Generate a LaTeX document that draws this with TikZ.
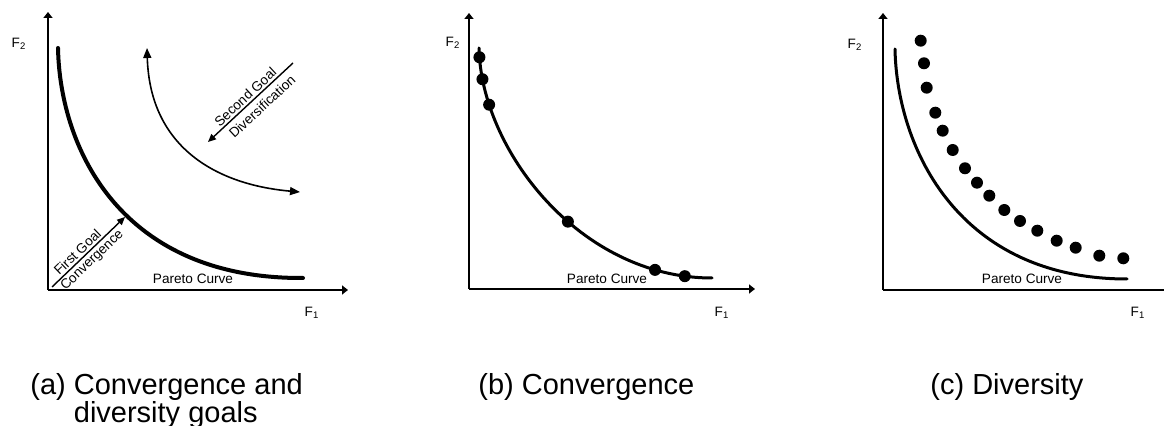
\documentclass[tikz,border=0pt]{standalone}
\usepackage{fontspec}
\setmainfont{Liberation Sans}
\usetikzlibrary{arrows.meta}

\begin{document}
\begin{tikzpicture}[
    x=0.5pt, y=-0.5pt,
    axis/.style = {draw=black, line width=1pt, -{Triangle[length=3pt, width=4.5pt]}},
    pareto/.style = {draw=black, line width=1.5pt, line cap=round},
    goal/.style = {draw=black, line width=0.7pt, -{Triangle[length=4pt, width=3.5pt]}},
    lbl/.style = {font=\fontsize{6.8}{8}\selectfont, inner sep=1pt},
    caption/.style = {font=\fontsize{14.5}{14}\selectfont, anchor=base west, align=left, inner sep=0pt},
    dot/.style = {circle, fill=black, inner sep=0pt, minimum size=6pt}
]
\useasboundingbox (0,0) rectangle (1164,426);

% (a) convergence and diversity goals
\coordinate (oa) at (48,290);
\coordinate (ya) at (48,12);
\coordinate (xa) at (348,290);
\draw[axis] (oa) -- (ya);
\draw[axis] (oa) -- (xa);
\node (f2a) [lbl] at (19,44) {F\textsubscript{2}};
\node (f1a) [lbl] at (312,313) {F\textsubscript{1}};
\draw[pareto, line width=2pt] (58,48) .. controls (60,150) and (122,279) .. (303,278);
\node (pca) [lbl] at (193,279) {Pareto Curve};

\coordinate (fg1) at (52,287);
\coordinate (fg2) at (125,217);
\draw[goal] (fg1) -- (fg2)
    node[lbl, pos=0.42, above, sloped] (fga) {First Goal}
    node[lbl, pos=0.47, below, sloped] (fgb) {Convergence};

\coordinate (sg1) at (208,142);
\coordinate (sg2) at (293,63);
\draw[goal, {Triangle[length=4pt, width=3.5pt]}-] (sg1) -- (sg2)
    node[lbl, pos=0.5, above, sloped] (sga) {Second Goal}
    node[lbl, pos=0.55, below=1.5pt, sloped] (sgb) {Diversification};

\coordinate (arc1) at (147,48);
\coordinate (arc2) at (300,192);
\draw[line width=0.8pt, {Triangle[length=5pt, width=4pt]}-{Triangle[length=5pt, width=4pt]}]
    (arc1) .. controls (150,150) and (220,185) .. (arc2);

\node (capa) [caption] at (30,423) {(a) Convergence and\\\phantom{(a) }diversity goals};

% (b) convergence
\coordinate (ob) at (469,289);
\coordinate (yb) at (469,13);
\coordinate (xb) at (755,289);
\draw[axis] (ob) -- (yb);
\draw[axis] (ob) -- (xb);
\node (f2b) [lbl] at (453,43) {F\textsubscript{2}};
\node (f1b) [lbl] at (722,313) {F\textsubscript{1}};
\draw[pareto] (479,48) .. controls (481,150) and (580,278) .. (712,278)
    node[dot, pos=0.03] (b1) {}
    node[dot, pos=0.10] (b2) {}
    node[dot, pos=0.18] (b3) {}
    node[dot, pos=0.58] (b4) {}
    node[dot, pos=0.85] (b5) {}
    node[dot, pos=0.93] (b6) {};
\node (pcb) [lbl] at (607,279) {Pareto Curve};

\node (capb) [caption] at (478,395) {(b) Convergence};

% (c) diversity
\coordinate (oc) at (883,290);
\coordinate (yc) at (883,13);
\coordinate (xc) at (1172,290);
\draw[axis] (oc) -- (yc);
\draw[axis] (oc) -- (xc);
\node (f2c) [lbl] at (855,45) {F\textsubscript{2}};
\node (f1c) [lbl] at (1138,313) {F\textsubscript{1}};
\draw[pareto] (895,49) .. controls (897,150) and (960,279) .. (1127,279);
\node (pcc) [lbl] at (1022,279) {Pareto Curve};
\foreach \p [count=\i] in {(920.7,40.7),(924,63.3),(926.7,87.7),(935.3,112.7),(942.7,130.7),(952.7,150),(965,168.3),(977,182.7),(989.3,195.7),(1004.3,210),(1020,221),(1037.3,230.7),(1056.7,240.7),(1075.7,247.7),(1099.3,255.7),(1123.3,258.3)}
    \node[dot] (c\i) at \p {};

\node (capc) [caption] at (930,395) {(c) Diversity};

\end{tikzpicture}
\end{document}
